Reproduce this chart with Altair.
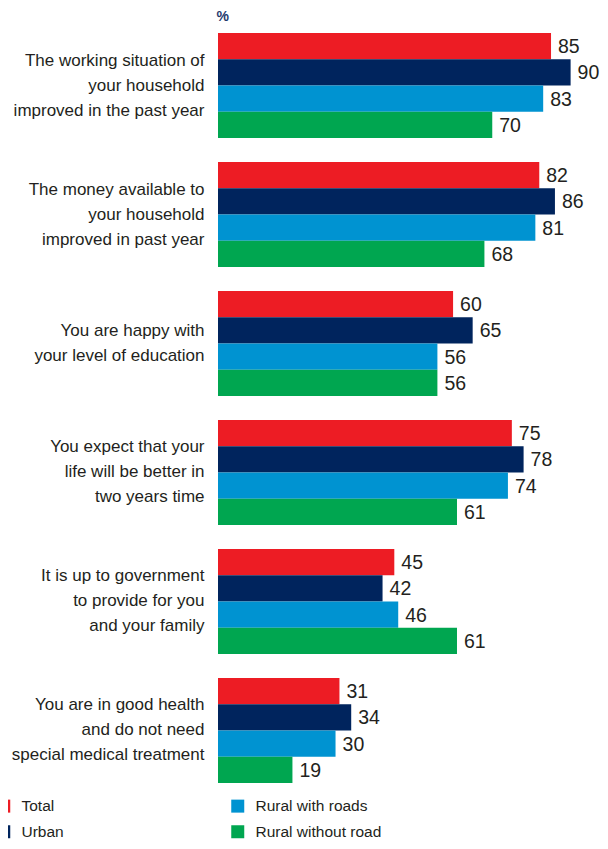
import altair as alt
import pandas as pd

categories = [
    "The working situation of|your household|improved in the past year",
    "The money available to|your household|improved in past year",
    "You are happy with|your level of education",
    "You expect that your|life will be better in|two years time",
    "It is up to government|to provide for you|and your family",
    "You are in good health|and do not need|special medical treatment",
]
series = ["Total", "Urban", "Rural with roads", "Rural without road"]
total = [85, 82, 60, 75, 45, 31]
urban = [90, 86, 65, 78, 42, 34]
rural_roads = [83, 81, 56, 74, 46, 30]
rural_no_road = [70, 68, 56, 61, 61, 19]

colors = ["#ed1c24", "#00245d", "#0093d1", "#00a650"]

rows = []
for s, vals in zip(series, [total, urban, rural_roads, rural_no_road]):
    for c, v in zip(categories, vals):
        rows.append({"category": c, "series": s, "value": v})
df = pd.DataFrame(rows)

FONT = "Liberation Sans, Arial, sans-serif"
TXT = "#231f20"

base = alt.Chart(df).encode(
    y=alt.Y(
        "category:N",
        sort=categories,
        scale=alt.Scale(paddingInner=0.186, paddingOuter=0),
        axis=alt.Axis(
            title=None,
            ticks=False,
            domain=False,
            labelExpr="split(datum.label, '|')",
            labelFont=FONT,
            labelFontSize=17,
            labelColor=TXT,
            labelLineHeight=25,
            labelPadding=14,
            labelLimit=300,
            labelOffset={
                "condition": {
                    "test": "length(split(datum.value, '|')) == 2",
                    "value": -12.5,
                },
                "value": -25,
            },
        ),
    ),
    yOffset=alt.YOffset("series:N", sort=series, scale=alt.Scale(paddingInner=0, paddingOuter=0)),
)

bars = base.mark_bar().encode(
    x=alt.X(
        "value:Q",
        scale=alt.Scale(domain=[0, 97.5], nice=False),
        axis=alt.Axis(
            orient="top",
            title="%",
            labels=False,
            ticks=False,
            domain=False,
            grid=False,
            titleFont=FONT,
            titleFontSize=14,
            titleFontWeight="bold",
            titleColor="#1f3a6e",
            titleAnchor="start",
            titleAlign="left",
            titleX=-2,
            titleY=-10,
        ),
    ),
    color=alt.Color(
        "series:N",
        scale=alt.Scale(domain=series, range=colors),
        legend=alt.Legend(
            title=None,
            orient="none",
            legendX=-222,
            legendY=765,
            columns=2,
            gridAlign="each",
            columnPadding=166,
            rowPadding=9,
            symbolType="square",
            symbolSize=169,
            symbolStrokeWidth=0,
            labelFont=FONT,
            labelFontSize=15.5,
            labelColor=TXT,
            labelOffset=10,
            labelLimit=300,
        ),
    ),
)

labels = base.mark_text(
    align="left", baseline="middle", dx=7, dy=1, font=FONT, fontSize=19.5, color=TXT
).encode(x="value:Q", text="value:Q")

chart = (
    alt.layer(bars, labels)
    .properties(
        width=382,
        height=750,
        autosize=alt.AutoSizeParams(type="none"),
        padding={"left": 210, "top": 25, "right": 0, "bottom": 58},
    )
    .configure_view(stroke=None)
)

chart.save("out.html", embed_options={"renderer": "svg", "actions": False})
